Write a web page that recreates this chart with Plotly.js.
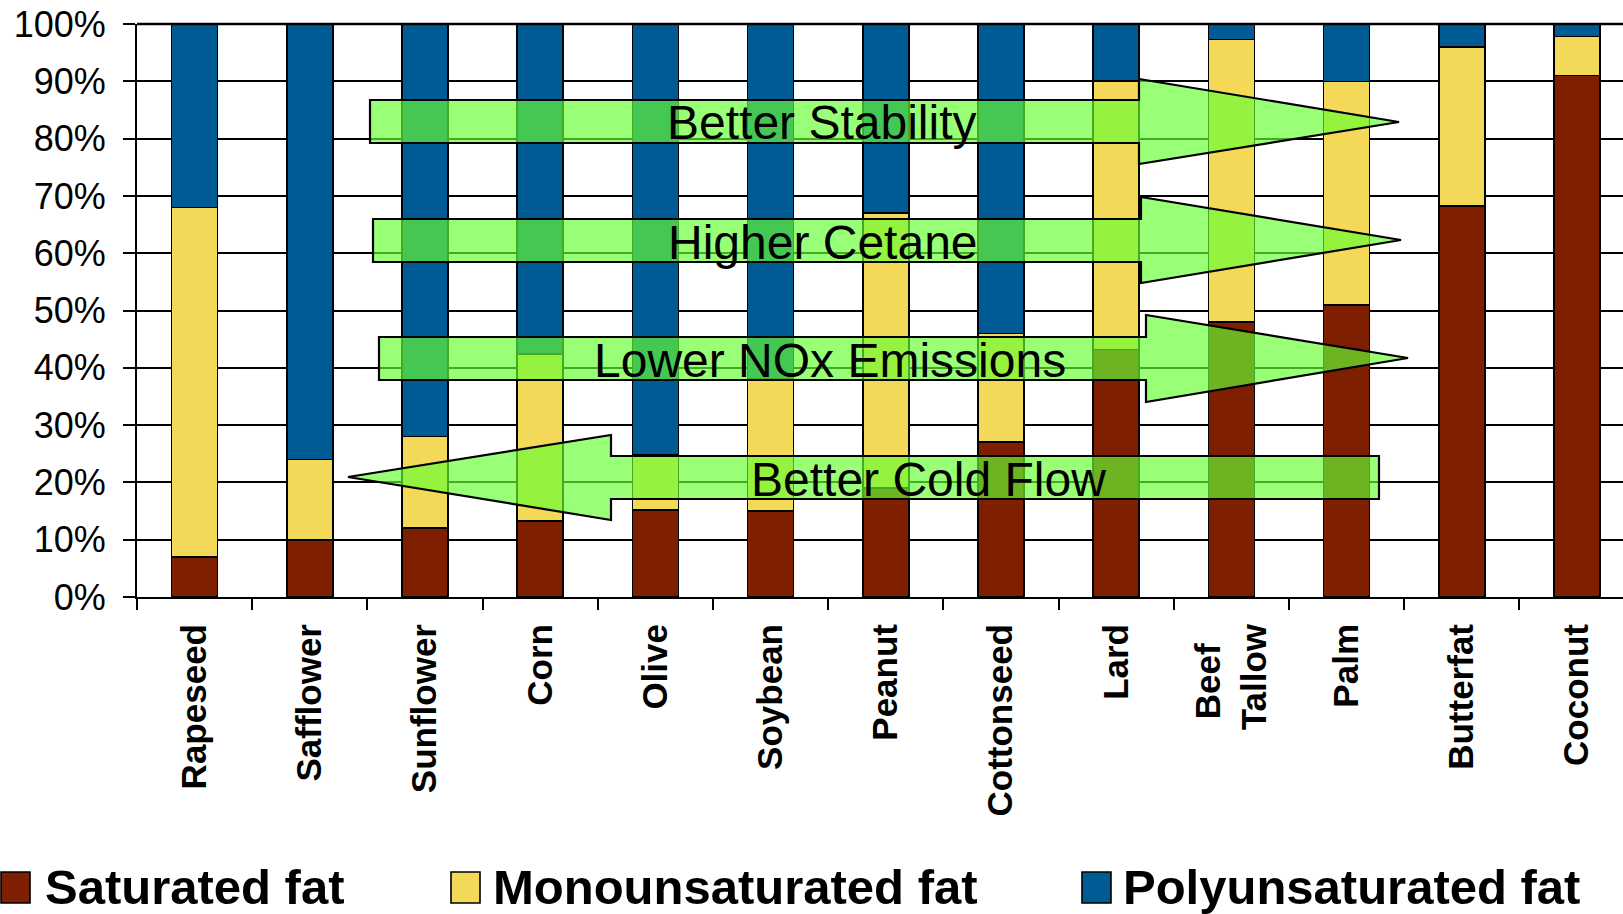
<!DOCTYPE html>
<html>
<head>
<meta charset="utf-8">
<script src="https://cdn.plot.ly/plotly-3.0.1.min.js"></script>
<style>html,body{margin:0;padding:0;background:#fff;}#chart{width:1623px;height:914px;}</style>
</head>
<body>
<div id="chart"></div>
<script>
// ---- data (percent of total fat) ----
const categories = ['Rapeseed','Safflower','Sunflower','Corn','Olive','Soybean','Peanut','Cottonseed','Lard','Beef Tallow','Palm','Butterfat','Coconut'];
const tickLabels = ['Rapeseed','Safflower','Sunflower','Corn','Olive','Soybean','Peanut','Cottonseed','Lard','Beef\u00A0\u00A0<br>Tallow','Palm','Butterfat','Coconut'];
const saturated = [7, 10, 12, 13.3, 15.2, 15, 19, 27, 43.2, 48, 51, 68.2, 91];
const monounsaturated = [61, 14, 16, 29.1, 9.6, 23, 48, 19, 46.9, 49.3, 39, 27.8, 6.8];
const polyunsaturated = [32, 76, 72, 57.6, 75.2, 62, 33, 54, 9.9, 2.7, 10, 4, 2.2];
const seriesNames = ['Saturated fat', 'Monounsaturated fat', 'Polyunsaturated fat'];
const seriesColors = ['#7E1F00', '#F4D857', '#005A94'];
const yTicks = [0,10,20,30,40,50,60,70,80,90,100];
const arrowLabels = ['Better Stability', 'Higher Cetane', 'Lower NOx Emissions', 'Better Cold Flow'];

// ---- geometry helpers (pixel -> paper) ----
const W = 1623, H = 914, L = 137, R = 0, T = 24, B = 317;
const PW = W - L - R, PH = H - T - B;
const px = v => (v - L) / PW;
const py = v => (H - B - v) / PH;
function pathFrom(points){
  return 'M' + points.map(p => px(p[0]).toFixed(5) + ',' + py(p[1]).toFixed(5)).join('L') + 'Z';
}
// arrow outlines in pixel space
const arrowPts = [
  [[370,100],[1139,100],[1139,79],[1399,122],[1139,164],[1139,143],[370,143]],
  [[373,219],[1141,219],[1141,197],[1401,240],[1141,283],[1141,262],[373,262]],
  [[379,337],[1146,337],[1146,315],[1408,358],[1146,402],[1146,380],[379,380]],
  [[348,477],[611,435],[611,456],[1379,456],[1379,499],[611,499],[611,520]]
];
const arrowTextPos = [[821,122],[823,242],[830,360],[928,479]];
const legendSwatchX = [0, 450, 1081];
const legendTextX = [43, 491, 1121];

const traces = [saturated, monounsaturated, polyunsaturated].map((vals, i) => ({
  type: 'bar',
  x: categories,
  y: vals,
  name: seriesNames[i],
  marker: {color: seriesColors[i], line: {color: '#000', width: 1.6}},
  showlegend: false,
  hoverinfo: 'x+y+name'
}));

const shapes = [];
const annotations = [];
// top border of plot
shapes.push({type:'line', xref:'paper', yref:'paper', x0:0, x1:1, y0:1, y1:1, line:{color:'#000', width:2.5}});
arrowPts.forEach(pts => shapes.push({
  type:'path', xref:'paper', yref:'paper', path: pathFrom(pts),
  fillcolor:'rgba(102,255,51,0.667)', line:{color:'#000', width:2.2}, layer:'above'
}));
arrowLabels.forEach((t, i) => annotations.push({
  xref:'paper', yref:'paper', x: px(arrowTextPos[i][0]), y: py(arrowTextPos[i][1]),
  xanchor:'center', yanchor:'middle', showarrow:false, text:t,
  font:{family:'Liberation Sans, Arial, sans-serif', size:48, color:'#000'}
}));
// legend
seriesNames.forEach((n, i) => {
  shapes.push({type:'rect', xref:'paper', yref:'paper',
    x0: px(legendSwatchX[i]+1), x1: px(legendSwatchX[i]+30), y0: py(903), y1: py(872),
    fillcolor: seriesColors[i], line:{color:'#000', width:1.6}});
  annotations.push({xref:'paper', yref:'paper', x: px(legendTextX[i]), y: py(887),
    xanchor:'left', yanchor:'middle', showarrow:false, text:n,
    font:{family:'Liberation Sans, Arial, sans-serif', size:49, color:'#000', weight:'bold'}});
});

const layout = {
  width: W, height: H,
  margin: {l:L, r:R, t:T, b:B, pad:0},
  paper_bgcolor:'#fff', plot_bgcolor:'#fff',
  barmode:'stack', bargap:0.6,
  showlegend:false,
  xaxis: {
    type:'category', range:[-0.5, -0.5 + PW/115.2],
    tickmode:'array', tickvals: categories, ticktext: tickLabels,
    tickson:'boundaries', ticks:'outside', ticklen:11, tickwidth:2, tickcolor:'#000',
    showline:true, linecolor:'#000', linewidth:2, showgrid:false, zeroline:false,
    tickangle:-90, ticklabelstandoff:11,
    tickfont:{family:'Liberation Sans, Arial, sans-serif', size:35, color:'#000', weight:'bold'}
  },
  yaxis: {
    range:[0,100], tickmode:'array', tickvals: yTicks, ticktext: yTicks.map(v => v + '%'),
    ticks:'outside', ticklen:12, tickwidth:2, tickcolor:'#000',
    showline:true, linecolor:'#000', linewidth:2,
    showgrid:true, gridcolor:'#000', gridwidth:2, zeroline:false,
    ticklabelstandoff:10,
    tickfont:{family:'Liberation Sans, Arial, sans-serif', size:36, color:'#000'}
  },
  shapes: shapes,
  annotations: annotations
};

Plotly.newPlot('chart', traces, layout, {displayModeBar:false, staticPlot:true});
</script>
</body>
</html>
